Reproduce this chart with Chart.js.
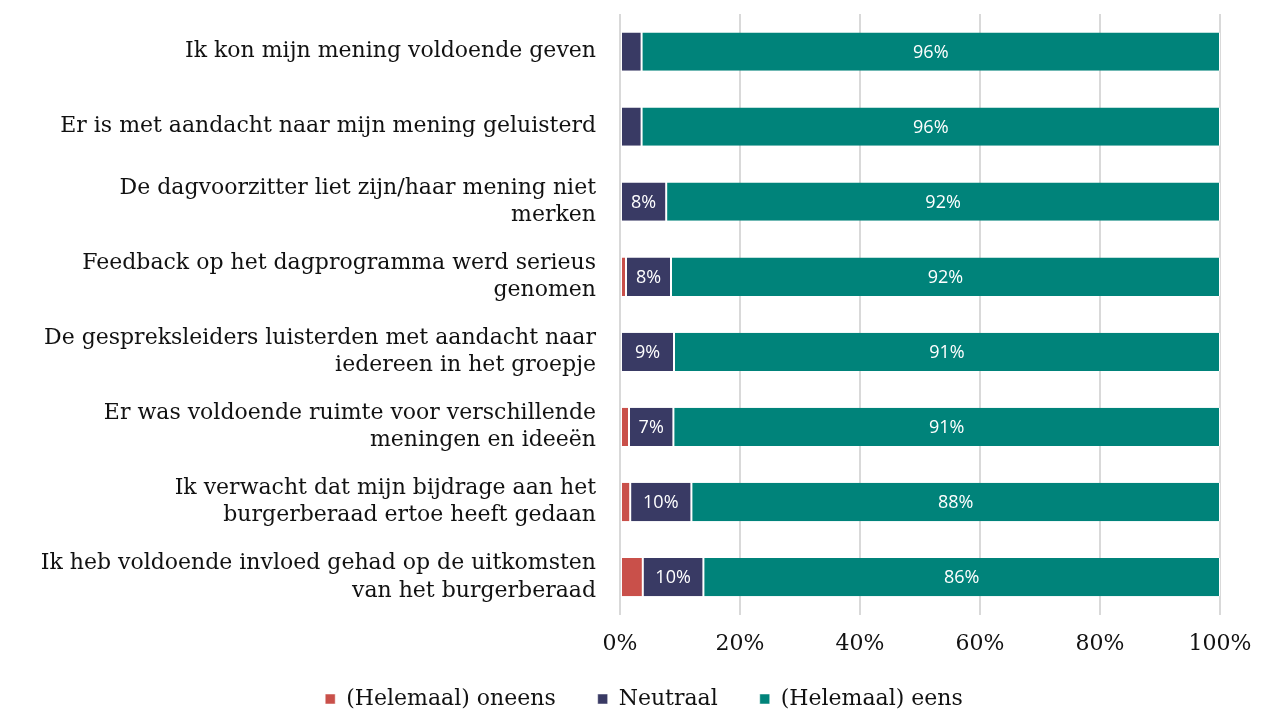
<!DOCTYPE html>
<html>
<head>
<meta charset="utf-8">
<script src="https://cdn.jsdelivr.net/npm/chart.js@4"></script>
<style>
  html, body { margin: 0; padding: 0; background: #fff; }
  #wrap { width: 1268px; height: 711px; position: relative; }
</style>
</head>
<body>
<div id="wrap"><canvas id="chart"></canvas></div>
<script>
// ==== Data ====
const statements = [
  ["Ik kon mijn mening voldoende geven"],
  ["Er is met aandacht naar mijn mening geluisterd"],
  ["De dagvoorzitter liet zijn/haar mening niet", "merken"],
  ["Feedback op het dagprogramma werd serieus", "genomen"],
  ["De gespreksleiders luisterden met aandacht naar", "iedereen in het groepje"],
  ["Er was voldoende ruimte voor verschillende", "meningen en ideeën"],
  ["Ik verwacht dat mijn bijdrage aan het", "burgerberaad ertoe heeft gedaan"],
  ["Ik heb voldoende invloed gehad op de uitkomsten", "van het burgerberaad"]
];
const oneens   = [0,    0,    0,    1.0,  0,    1.5,  1.7,  3.8];
const neutraal = [3.6,  3.6,  7.7,  7.5,  9.0,  7.4,  10.2, 10.1];
const eens     = [96.4, 96.4, 92.3, 91.5, 91.0, 91.1, 88.1, 86.1];
const xTicks = [0, 20, 40, 60, 80, 100];

const serif = "'DejaVu Serif', serif";

// ==== Value labels inside bars ====
const barLabels = {
  id: "barLabels",
  afterDatasetsDraw(chart) {
    const ctx = chart.ctx;
    ctx.save();
    ctx.font = "18px 'Open Sans'";
    ctx.fillStyle = "#fff";
    ctx.textAlign = "center";
    ctx.textBaseline = "middle";
    chart.data.datasets.forEach((ds, di) => {
      chart.getDatasetMeta(di).data.forEach((bar, i) => {
        const v = ds.data[i];
        if (v < 5) return;
        ctx.fillText(Math.round(v) + "%", (bar.x + bar.base) / 2, bar.y + 1);
      });
    });
    ctx.restore();
  }
};

// nudge the legend to where the original sits
const legendShift = {
  id: "legendShift",
  afterLayout(chart) {
    const lg = chart.legend;
    lg.left += 34;
    lg.right += 34;
    lg.top -= 5;
    lg.bottom -= 5;
  }
};

// ==== Chart ====
const common = {
  borderColor: "#fff",
  borderWidth: { left: 1, right: 1, top: 0, bottom: 0 },
  borderSkipped: false,
  categoryPercentage: 1,
  barPercentage: 0.51
};

new Chart(document.getElementById("chart"), {
  type: "bar",
  data: {
    labels: statements,
    datasets: [
      { label: "(Helemaal) oneens", data: oneens, backgroundColor: "#c9504a", ...common },
      { label: "Neutraal", data: neutraal, backgroundColor: "#393a64", ...common },
      { label: "(Helemaal) eens", data: eens, backgroundColor: "#00837a", ...common }
    ]
  },
  options: {
    indexAxis: "y",
    responsive: true,
    maintainAspectRatio: false,
    animation: false,
    layout: { padding: { top: 14, right: 48, bottom: -14, left: 0 } },
    scales: {
      x: {
        stacked: true,
        min: 0,
        max: 100,
        afterBuildTicks: s => { s.ticks = xTicks.map(v => ({ value: v })); },
        grid: { color: "#d9d9d9", lineWidth: 2, drawTicks: false },
        border: { display: false },
        ticks: {
          padding: 16,
          color: "#111",
          font: { family: serif, size: 22 },
          callback: v => v + "%"
        }
      },
      y: {
        stacked: true,
        afterFit: s => { s.width = 620; s.paddingTop = 0; s.paddingBottom = 0; },
        grid: { display: false, drawTicks: false },
        border: { display: false },
        ticks: {
          padding: 24,
          color: "#111",
          font: { family: serif, size: 22, lineHeight: 1.25 }
        }
      }
    },
    plugins: {
      legend: {
        position: "bottom",
        labels: {
          usePointStyle: true,
          pointStyle: "rect",
          boxWidth: 10,
          boxHeight: 10,
          padding: 20,
          color: "#111",
          font: { family: serif, size: 22 },
          generateLabels: chart => {
            const items = Chart.defaults.plugins.legend.labels.generateLabels(chart);
            items.forEach((it, i) => { if (i < items.length - 1) it.text += "\u2003"; });
            return items;
          }
        }
      },
      tooltip: { enabled: false }
    }
  },
  plugins: [barLabels, legendShift]
});
</script>
</body>
</html>
